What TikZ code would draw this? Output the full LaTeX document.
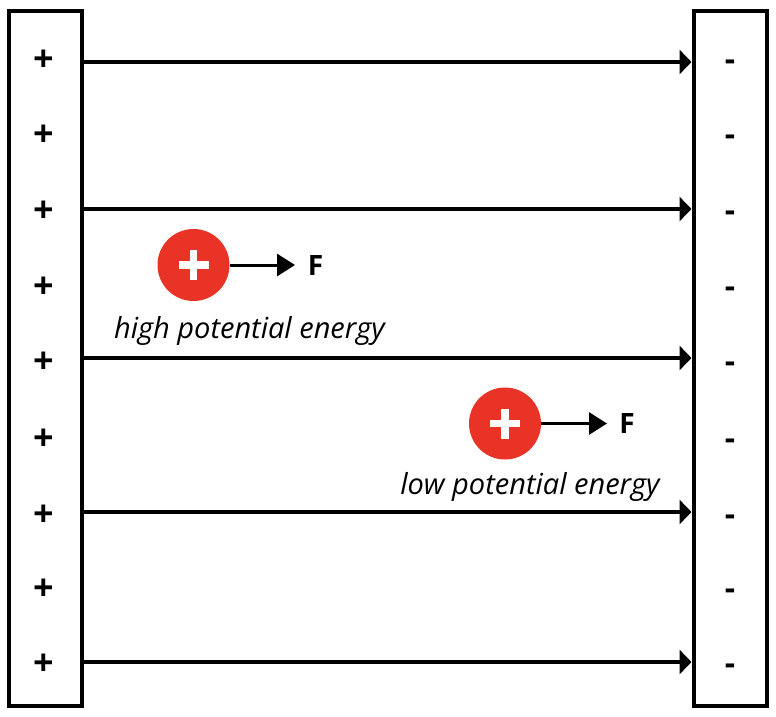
\documentclass[tikz,border=0pt]{standalone}
\usepackage{fontspec}
\setmainfont{Open Sans}
\usetikzlibrary{arrows.meta}
\definecolor{chargered}{RGB}{233,51,38}
\tikzset{
  plate/.style={draw=black, line width=4pt, fill=white, inner sep=0pt, minimum width=73pt, minimum height=695.5pt},
  plussign/.style={font=\bfseries\fontsize{36}{36}\selectfont, inner sep=0pt, yshift=-3pt},
  minussign/.style={font=\bfseries\fontsize{32}{32}\selectfont, inner sep=0pt, yshift=-7pt},
  fieldline/.style={line width=4pt, -{Triangle[length=12pt,width=24pt]}},
  charge/.style={circle, fill=chargered, minimum size=72pt, inner sep=0pt,
    path picture={\draw[white,line width=7.5pt] ([xshift=-15pt]path picture bounding box.center) -- ([xshift=15pt]path picture bounding box.center);
                  \draw[white,line width=7.5pt] ([yshift=-15pt]path picture bounding box.center) -- ([yshift=15pt]path picture bounding box.center);}},
  forcearrow/.style={line width=3pt, -{Triangle[length=18pt,width=22pt]}},
  flabel/.style={font=\bfseries\fontsize{28}{28}\selectfont, inner sep=0pt},
  elabel/.style={font=\itshape\fontsize{29}{29}\selectfont, inner sep=0pt},
}
\begin{document}
\begin{tikzpicture}[x=1pt,y=-1pt]
\useasboundingbox (0,0) rectangle (776,716);
\fill[white] (0,0) rectangle (776,716);
\node[plate] (lp) at (45.5,358.25) {};
\node[plate] (rp) at (730,358.25) {};
\foreach \i/\y in {1/58,2/133,3/209,4/285,5/360,6/437,7/513,8/587,9/662}{
  \node[plussign] (p\i) at (44,\y) {+};
  \node[minussign] (m\i) at (730,\y) {-};
}
\coordinate (a1) at (0,62);
\coordinate (a2) at (0,209);
\coordinate (a3) at (0,358);
\coordinate (a4) at (0,512);
\coordinate (a5) at (0,662);
\foreach \i in {1,...,5}{
  \draw[fieldline] (lp.east |- a\i) -- (rp.west |- a\i);
}
\node[charge] (c1) at (193.5,265) {};
\coordinate (t1) at (295,265);
\draw[forcearrow] (c1.east) -- (t1);
\node[flabel] (f1) at (315.5,265) {F};
\node[elabel] (e1) at (249.5,331) {high potential energy};
\node[charge] (c2) at (505,423.5) {};
\coordinate (t2) at (607,423.5);
\draw[forcearrow] (c2.east) -- (t2);
\node[flabel] (f2) at (627,423.5) {F};
\node[elabel] (e2) at (530,487) {low potential energy};
\end{tikzpicture}
\end{document}
